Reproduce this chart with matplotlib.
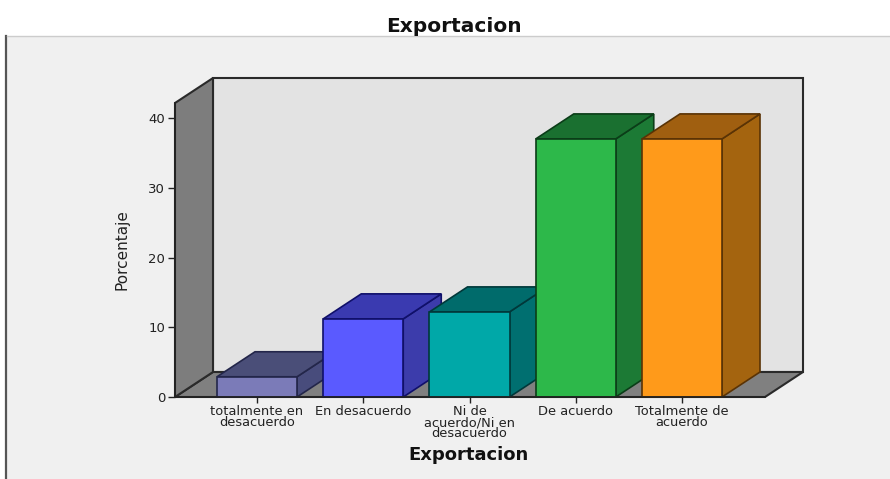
import matplotlib
matplotlib.use('Agg')
import matplotlib.pyplot as plt
from matplotlib.patches import Polygon, Rectangle

plt.rcParams['font.family'] = ['DejaVu Sans']

categorias = ['totalmente en\ndesacuerdo', 'En desacuerdo', 'Ni de\nacuerdo/Ni en\ndesacuerdo',
              'De acuerdo', 'Totalmente de\nacuerdo']
porcentajes = [2.9, 11.2, 12.2, 37.0, 37.0]
y_ticks = [0, 10, 20, 30, 40]

color_frente = ['#7b7bb8', '#5a5aff', '#00a8a8', '#2db84a', '#ff9a1a']
color_lado = ['#484c7c', '#3c3cab', '#006f70', '#1c7a35', '#a4640f']
color_tapa = ['#4a4e78', '#3a3ab0', '#006b6b', '#1a7030', '#a05f10']
color_borde = ['#23264a', '#10106a', '#00383a', '#0b3d18', '#5a3305']

W, H = 890, 479
ANCHO = 0.753
# profundidad de la perspectiva, en unidades de los ejes
DX = 38 / 106.25
DY = 25 / 6.975


def caja(ax, x0, x1, y, frente, lado, tapa, linea):
    """Dibuja una barra con cara frontal, lateral y superior"""
    borde = dict(edgecolor=linea, linewidth=1.2, clip_on=False)
    ax.add_patch(Polygon([(x1, 0), (x1 + DX, DY), (x1 + DX, y + DY), (x1, y)], facecolor=lado, zorder=5, **borde))
    ax.add_patch(Polygon([(x0, y), (x0 + DX, y + DY), (x1 + DX, y + DY), (x1, y)], facecolor=tapa, zorder=5, **borde))
    ax.add_patch(Rectangle((x0, 0), x1 - x0, y, facecolor=frente, zorder=6, **borde))


fig = plt.figure(figsize=(W / 100, H / 100), dpi=100, facecolor='white')

# panel de fondo del grafico
fig.add_artist(Rectangle((7 / W, 0), 1, 1 - 36 / H, transform=fig.transFigure,
                         facecolor='#f0f0f0', edgecolor='none', zorder=-2))
fig.add_artist(plt.Line2D([6 / W, 6 / W], [0, 1 - 36 / H], color='#555555', lw=1.6, zorder=-1))
fig.add_artist(plt.Line2D([7 / W, 1], [1 - 36 / H, 1 - 36 / H], color='#cccccc', lw=1.0, zorder=-1))

ax = fig.add_axes([175 / W, 1 - 397 / H, 590 / W, 294 / H])
ax.set_facecolor('none')
ax.set_xlim(-82 / 106.25, 508 / 106.25)
ax.set_ylim(0, 294 / 6.975)

x_izq, x_der = ax.get_xlim()
y_sup = ax.get_ylim()[1]

# pared del fondo, suelo y pared lateral
borde_muro = dict(edgecolor='#2a2a2a', linewidth=1.5, clip_on=False, zorder=1)
ax.add_patch(Rectangle((x_izq + DX, DY), x_der - x_izq, y_sup, facecolor='#e3e3e3', **borde_muro))
ax.add_patch(Polygon([(x_izq, 0), (x_izq + DX, DY), (x_der + DX, DY), (x_der, 0)], facecolor='#808080', **borde_muro))
ax.add_patch(Polygon([(x_izq, 0), (x_izq + DX, DY), (x_izq + DX, y_sup + DY), (x_izq, y_sup)],
                     facecolor='#7d7d7d', **borde_muro))

for i, valor in enumerate(porcentajes):
    caja(ax, i - ANCHO / 2, i + ANCHO / 2, valor, color_frente[i], color_lado[i], color_tapa[i], color_borde[i])

for lado in ['top', 'right']:
    ax.spines[lado].set_visible(False)
for lado in ['left', 'bottom']:
    ax.spines[lado].set_color('#222222')
    ax.spines[lado].set_linewidth(1.2)
    ax.spines[lado].set_zorder(7)

ax.set_yticks(y_ticks)
ax.set_xticks(range(len(categorias)))
ax.set_xticklabels(categorias, fontsize=9.4, color='#222222', linespacing=0.8)
ax.tick_params(axis='y', labelsize=9.5, length=5, width=1, pad=2, colors='#222222')
ax.tick_params(axis='x', length=4, width=1, pad=2, colors='#222222')

fig.text(122 / W, 1 - 250 / H, 'Porcentaje', rotation=90, ha='center', va='center',
         fontsize=11, color='#222222')
fig.text(469 / W, 1 - 455 / H, 'Exportacion', ha='center', va='center',
         fontsize=13, fontweight='bold', color='#111111')
fig.text(454 / W, 1 - 26 / H, 'Exportacion', ha='center', va='center',
         fontsize=14.5, fontweight='bold', color='#111111')

plt.savefig('out.png', dpi=100)
plt.close()
